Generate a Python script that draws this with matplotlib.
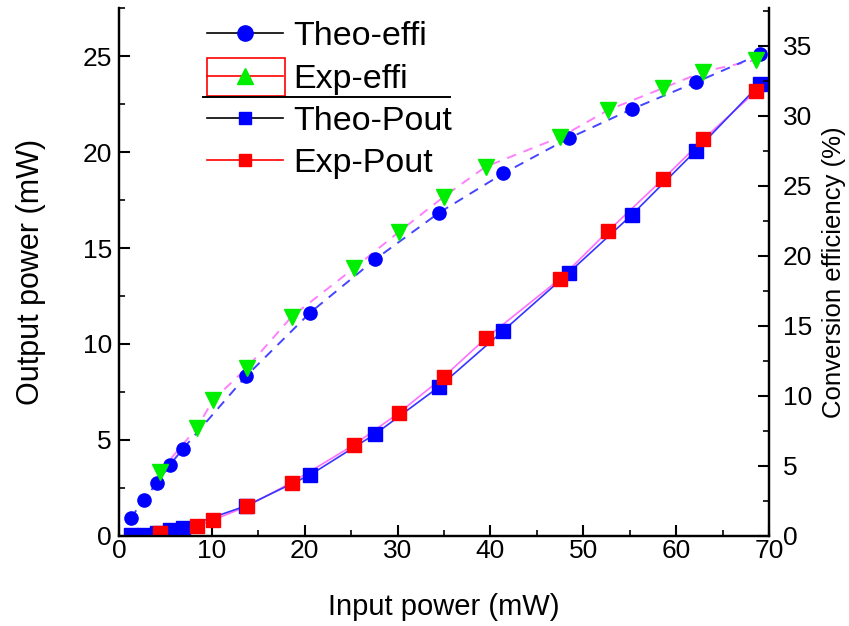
import matplotlib.pyplot as plt
from matplotlib.lines import Line2D
from matplotlib.patches import Rectangle
from matplotlib.ticker import MultipleLocator

plt.rcParams['font.family'] = ['Liberation Sans', 'DejaVu Sans']

# theoretical curve (input power in mW)
theo_x = [1.26, 2.69, 4.06, 5.49, 6.86, 13.68, 20.6, 27.6, 34.5, 41.4, 48.4, 55.2, 62.1, 69.0]
theo_eff = [1.26, 2.57, 3.76, 5.07, 6.19, 11.4, 15.95, 19.76, 23.1, 25.9, 28.4, 30.48, 32.4, 34.4]
theo_pout = [0.02, 0.07, 0.15, 0.28, 0.42, 1.56, 3.18, 5.31, 7.78, 10.7, 13.7, 16.72, 20.07, 23.54]

# measured points
exp_x = [4.42, 8.37, 10.15, 13.75, 18.6, 25.3, 30.1, 35.0, 39.5, 47.5, 52.7, 58.55, 62.9, 68.6]
exp_eff = [4.59, 7.69, 9.71, 11.98, 15.66, 19.12, 21.69, 24.24, 26.38, 28.48, 30.43, 31.98, 33.16, 34.0]
exp_pout = [0.17, 0.52, 0.83, 1.53, 2.78, 4.74, 6.39, 8.30, 10.3, 13.4, 15.9, 18.58, 20.66, 23.18]

fig = plt.figure(figsize=(8.49, 6.26), dpi=100)
ax = fig.add_axes([0.140, 0.144, 0.766, 0.843])
ax2 = ax.twinx()

# output power (left axis)
ax.plot(exp_x, exp_pout, color='#ff70ff', lw=1.2, zorder=2)
ax.plot(theo_x, theo_pout, color='#3535ff', lw=1.2, zorder=2)
ax.plot(theo_x, theo_pout, ls='none', marker='s', ms=9.5, color='blue', zorder=3)
ax.plot(exp_x, exp_pout, ls='none', marker='s', ms=10, color='red', zorder=4)

# conversion efficiency (right axis)
ax2.plot(exp_x, exp_eff, color='#ff80ff', lw=1.4, ls=(0, (5, 4)), zorder=2)
ax2.plot(theo_x, theo_eff, color='#4545ff', lw=1.4, ls=(0, (5, 4)), zorder=2)
ax2.plot(theo_x, theo_eff, ls='none', marker='o', ms=9.5, color='blue', zorder=3)
ax2.plot(exp_x, exp_eff, ls='none', marker='v', ms=12, color='#00ee00', zorder=4)

ax.set_xlim(0, 70)
ax.set_ylim(0, 27.5)
ax2.set_ylim(0, 37.7)

ax.xaxis.set_major_locator(MultipleLocator(10))
ax.xaxis.set_minor_locator(MultipleLocator(5))
ax.yaxis.set_major_locator(MultipleLocator(5))
ax.yaxis.set_minor_locator(MultipleLocator(2.5))
ax2.yaxis.set_major_locator(MultipleLocator(5))
ax2.yaxis.set_minor_locator(MultipleLocator(2.5))

for a in (ax, ax2):
    a.tick_params(which='major', direction='in', length=8, width=1.5, labelsize=19, pad=5)
    a.tick_params(which='minor', direction='in', length=4, width=1.2)
    for side in ('left', 'right', 'bottom'):
        a.spines[side].set_linewidth(1.6)
    a.spines['top'].set_visible(False)
ax.tick_params(axis='x', which='major', pad=2)
ax2.tick_params(axis='y', which='major', pad=10)

ax.set_xlabel('Input power (mW)', fontsize=21, labelpad=22)
ax.set_ylabel('Output power (mW)', fontsize=22, labelpad=26)
ax2.set_ylabel('Conversion efficiency (%)', fontsize=18.5, labelpad=7)

handles = [
    Line2D([], [], color='black', lw=1.2, marker='o', ms=11, mfc='blue', mec='blue'),
    Line2D([], [], color='red', lw=1.2, marker='^', ms=12, mfc='#00ee00', mec='#00ee00'),
    Line2D([], [], color='black', lw=1.2, marker='s', ms=9, mfc='blue', mec='blue'),
    Line2D([], [], color='red', lw=1.2, marker='s', ms=9, mfc='red', mec='red'),
]
labels = ['Theo-effi', 'Exp-effi', 'Theo-Pout', 'Exp-Pout']
leg = ax2.legend(handles, labels, loc='upper left', bbox_to_anchor=(0.216, 1.004),
                 bbox_transform=fig.transFigure, frameon=False,
                 prop={'family': 'Liberation Sans', 'size': 24.5},
                 handlelength=2.24, handletextpad=0.28, labelspacing=0.33,
                 borderpad=0.2)

# box around the second legend sample and a rule under it
fig.add_artist(Rectangle((0.2442, 0.8466), 0.0919, 0.0612, transform=fig.transFigure,
                         fill=False, ec='red', lw=1.2))
fig.add_artist(Line2D([0.239, 0.530], [0.845, 0.845], transform=fig.transFigure,
                      color='black', lw=1.4))

fig.savefig('out.png', dpi=100)
